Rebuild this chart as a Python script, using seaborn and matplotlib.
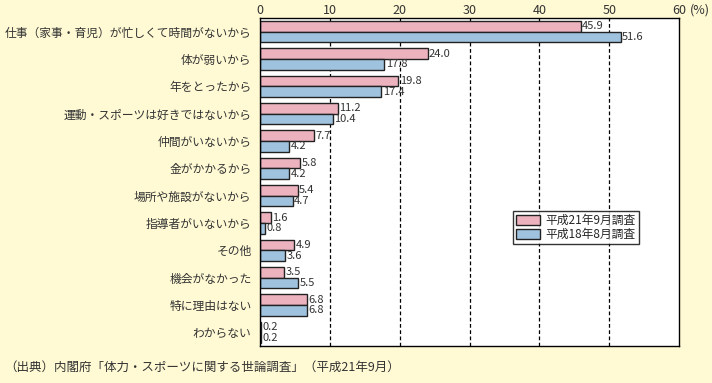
import pandas as pd
import matplotlib.pyplot as plt
import seaborn as sns

# データ
reasons = ["仕事（家事・育児）が忙しくて時間がないから", "体が弱いから", "年をとったから",
           "運動・スポーツは好きではないから", "仲間がいないから", "金がかかるから",
           "場所や施設がないから", "指導者がいないから", "その他", "機会がなかった",
           "特に理由はない", "わからない"]
h21 = [45.9, 24.0, 19.8, 11.2, 7.7, 5.8, 5.4, 1.6, 4.9, 3.5, 6.8, 0.2]
h18 = [51.6, 17.8, 17.4, 10.4, 4.2, 4.2, 4.7, 0.8, 3.6, 5.5, 6.8, 0.2]
series = ["平成21年9月調査", "平成18年8月調査"]
xticks = [0, 10, 20, 30, 40, 50, 60]

df = pd.DataFrame({
    "reason": reasons * 2,
    "value": h21 + h18,
    "survey": [series[0]] * len(reasons) + [series[1]] * len(reasons),
})

sns.set_style("white")
plt.rcParams['font.family'] = ['Noto Sans CJK JP', 'DejaVu Sans']

bg = "#FFFAD4"
fig = plt.figure(figsize=(7.12, 3.83), dpi=100, facecolor=bg)
ax = fig.add_axes([0.365, 0.097, 0.589, 0.856])
ax.set_facecolor("white")

sns.barplot(data=df, x="value", y="reason", hue="survey", order=reasons,
            hue_order=series, palette=["#F5AABA", "#95C4E8"], orient="h",
            width=0.78, edgecolor="#222222", linewidth=1.0, ax=ax)

# 値ラベル
for cont in ax.containers:
    ax.bar_label(cont, fmt="%.1f", padding=1, fontsize=8, color="#333333")

ax.set_xlim(0, 60)
ax.set_xticks(xticks)
ax.set_xticklabels([str(t) for t in xticks], fontsize=9, color="#333333")
ax.xaxis.tick_top()
ax.tick_params(axis="x", length=0, pad=1)
ax.tick_params(axis="y", length=0, pad=6, labelsize=8.5, labelcolor="#333333")
ax.annotate("(%)", xy=(60, 1), xycoords=("data", "axes fraction"),
            xytext=(8, 1), textcoords="offset points",
            fontsize=9, color="#333333", va="bottom", ha="left")
ax.set_xlabel("")
ax.set_ylabel("")

for t in xticks[1:-1]:
    ax.axvline(t, color="black", linestyle=(0, (3, 2)), linewidth=0.9, zorder=0)

for s in ax.spines.values():
    s.set_color("black")
    s.set_linewidth(1.0)

leg = ax.legend(loc="upper left", bbox_to_anchor=(0.59, 0.43), fontsize=8.5,
                frameon=True, fancybox=False, edgecolor="black",
                handlelength=2.0, handleheight=0.9, borderpad=0.25,
                labelspacing=0.1, handletextpad=0.5)
leg.get_frame().set_linewidth(1.0)

fig.text(0.006, 0.04, "（出典）内閣府「体力・スポーツに関する世論調査」（平成21年9月）",
         fontsize=9, color="#333333", ha="left", va="center")

fig.savefig("out.png", dpi=100, facecolor=bg)
